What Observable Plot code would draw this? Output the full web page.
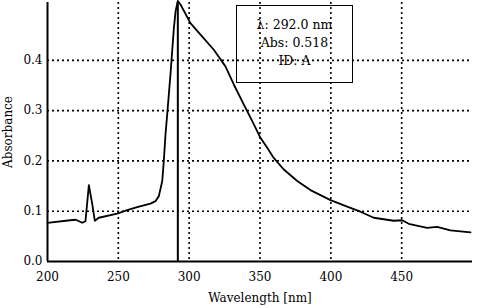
<!DOCTYPE html>
<html>
<head>
<meta charset="utf-8">
<script src="https://cdn.jsdelivr.net/npm/d3@7"></script>
<script src="https://cdn.jsdelivr.net/npm/@observablehq/plot@0.6"></script>
<style>
  html, body { margin: 0; padding: 0; background: #fff; }
  #wrap { position: relative; width: 478px; height: 308px; }
  #wrap svg, #wrap svg text { font-family: "DejaVu Serif", serif !important; }
  #box {
    position: absolute; left: 236px; top: 5px; width: 115px; height: 66px;
    border: 1.6px solid #000; font-family: "DejaVu Serif", serif; font-size: 12.5px;
    text-align: center; line-height: 18px; padding-top: 10px; box-sizing: content-box;
  }
  #box div { height: 18px; }
</style>
</head>
<body>
<div id="wrap"></div>
<script>
// Spectrum (wavelength in nm, absorbance)
const wavelength = [200, 216, 220, 224.5, 226.8, 229.2, 231.6, 233.4, 236.2, 249.2, 256.3, 263.3, 272.7, 276.2, 278.6, 281, 282.1, 283.3, 284.9, 286.8, 288, 289.2, 290.4, 292, 293.9, 300.9, 308, 317.4, 325.6, 331.5, 338.6, 345.6, 350.3, 355.1, 359.7, 366.8, 376.3, 385.6, 399.8, 411.5, 420.9, 430.3, 444.4, 450.4, 455, 468, 475, 484.5, 491.5, 498.6];
const absorbance = [0.077, 0.082, 0.083, 0.077, 0.080, 0.152, 0.114, 0.081, 0.087, 0.095, 0.102, 0.108, 0.115, 0.120, 0.130, 0.160, 0.200, 0.253, 0.306, 0.372, 0.418, 0.464, 0.497, 0.518, 0.511, 0.474, 0.451, 0.421, 0.388, 0.352, 0.312, 0.273, 0.246, 0.226, 0.206, 0.183, 0.160, 0.142, 0.122, 0.109, 0.099, 0.087, 0.081, 0.082, 0.075, 0.067, 0.069, 0.062, 0.060, 0.058];
const xTicks = [200, 250, 300, 350, 400, 450];
const yTicks = [0.0, 0.1, 0.2, 0.3, 0.4];
const xGrid = [250, 300, 350, 400, 450];
const yGrid = [0.1, 0.2, 0.3, 0.4];
const cursorWavelength = [292.0];
const infoLines = ["λ: 292.0 nm", "Abs: 0.518", "ID: A"];

const data = wavelength.map((w, i) => ({w, a: absorbance[i]}));
const dots = {stroke: "black", strokeOpacity: 1, strokeWidth: 1.6, strokeDasharray: "2,3"};

const chart = Plot.plot({
  width: 478, height: 308,
  marginLeft: 47, marginRight: 6, marginTop: 2, marginBottom: 47,
  x: {domain: [200, 500]},
  y: {domain: [0, 0.515]},
  style: {fontSize: "12px", color: "black", background: "white"},
  marks: [
    Plot.gridX(xGrid, dots),
    Plot.gridY(yGrid, dots),
    Plot.axisX(xTicks, {tickSize: 0, tickPadding: 11, label: "Wavelength [nm]", labelAnchor: "center", labelArrow: "none", labelOffset: 40}),
    Plot.axisY(yTicks, {tickSize: 0, tickPadding: 5, tickFormat: d3.format(".1f"), label: "Absorbance", labelAnchor: "center", labelArrow: "none", labelOffset: 44}),
    Plot.ruleX([200], {stroke: "black", strokeWidth: 2}),
    Plot.ruleY([0], {stroke: "black", strokeWidth: 2}),
    Plot.line(data, {x: "w", y: "a", stroke: "black", strokeWidth: 1.8}),
    Plot.ruleX(cursorWavelength, {stroke: "black", strokeWidth: 2})
  ]
});
const wrap = document.getElementById("wrap");
wrap.appendChild(chart);
const box = document.createElement("div");
box.id = "box";
infoLines.forEach(t => { const d = document.createElement("div"); d.textContent = t; box.appendChild(d); });
wrap.appendChild(box);
</script>
</body>
</html>
